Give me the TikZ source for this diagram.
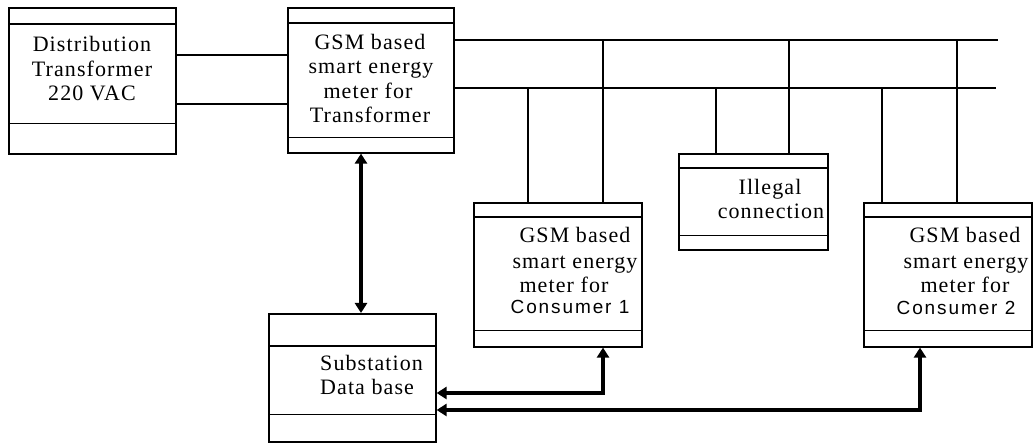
\documentclass[tikz,border=0pt]{standalone}
\usepackage{fontspec}
\setmainfont{Liberation Serif}
\newfontfamily\serf{Liberation Serif}[LetterSpace=5]
\newfontfamily\sansf{Liberation Sans}[LetterSpace=10]
\usetikzlibrary{arrows.meta}
\tikzset{
  box/.style={draw, line width=1.6pt, anchor=north west, inner sep=0pt},
  innerline/.style={line width=1.5pt},
  wire/.style={line width=1.6pt},
  bus/.style={line width=2.8pt},
  link/.style={line width=3.6pt, {Triangle[width=12pt,length=10pt]}-{Triangle[width=12pt,length=10pt]}},
  lbl/.style={inner sep=0pt, anchor=base, font=\serf\fontsize{22}{25}\selectfont},
  lblw/.style={inner sep=0pt, anchor=base west, font=\serf\fontsize{22}{25}\selectfont},
  slbl/.style={inner sep=0pt, anchor=base, font=\sansf\fontsize{19}{22}\selectfont},
}
\newcommand\inlines[3]{%
  \draw[innerline] ([yshift=-#2pt]#1.north west) -- ([yshift=-#2pt]#1.north east);
  \draw[innerline] ([yshift=#3pt]#1.south west) -- ([yshift=#3pt]#1.south east);}
\begin{document}
\begin{tikzpicture}[x=1pt,y=-1pt]
\useasboundingbox (0,0) rectangle (1034,443);
% boxes
\node[box, minimum width=167pt, minimum height=146pt] (dist) at (8,7) {};
\node[box, minimum width=166pt, minimum height=145pt] (gsmt) at (287,7) {};
\node[box, minimum width=168pt, minimum height=144pt] (c1) at (473,202) {};
\node[box, minimum width=167pt, minimum height=128pt] (sub) at (268,313) {};
\node[box, minimum width=149pt, minimum height=96pt] (ill) at (678,153) {};
\node[box, minimum width=168pt, minimum height=144pt] (c2) at (863,202) {};
\inlines{dist}{17}{31}
\inlines{gsmt}{16}{16}
\inlines{c1}{15}{17}
\inlines{sub}{33}{28}
\inlines{ill}{15}{15}
\inlines{c2}{15}{17}
% texts
\node[lbl] (dist1) at (92,52) {Distribution};
\node[lbl] (dist2) at (92,77) {Transformer};
\node[lbl] (dist3) at (92,101) {220 VAC};
\node[lbl] (gsmt1) at (370,50) {GSM based};
\node[lbl] (gsmt2) at (371,74) {smart energy};
\node[lbl] (gsmt3) at (368,99) {meter for};
\node[lbl] (gsmt4) at (370,123) {Transformer};
\node[lbl] (c1a) at (575,243) {GSM based};
\node[lbl] (c1b) at (575,269) {smart energy};
\node[lbl] (c1c) at (564,293) {meter for};
\node[slbl] (c1d) at (570,314) {Consumer 1};
\node[lbl] (c2a) at (965,243) {GSM based};
\node[lbl] (c2b) at (966,269) {smart energy};
\node[lbl] (c2c) at (965,293) {meter for};
\node[slbl] (c2d) at (956,315) {Consumer 2};
\node[lbl] (ill1) at (770,195) {Illegal};
\node[lbl] (ill2) at (771,219) {connection};
\node[lblw] (sub1) at (320,371) {Substation};
\node[lblw] (sub2) at (320,395) {Data base};
% coordinates
\coordinate (y55) at (0,55);
\coordinate (y104) at (0,104);
\coordinate (bt) at (0,40);
\coordinate (bl) at (0,88);
\coordinate (btend) at (998,40);
\coordinate (blend) at (996,88);
\coordinate (t1) at (603,40);
\coordinate (t2) at (789,40);
\coordinate (t3) at (957,40);
\coordinate (l1) at (528,88);
\coordinate (l2) at (716,88);
\coordinate (l3) at (882,88);
\coordinate (a1) at (361,0);
\coordinate (k1) at (603,393);
\coordinate (k2) at (920,410);
% transformer to meter
\draw[wire] (dist.east |- y55) -- (gsmt.west |- y55);
\draw[wire] (dist.east |- y104) -- (gsmt.west |- y104);
% bus bars
\draw[bus] (gsmt.east |- bt) -- (btend);
\draw[bus] (gsmt.east |- bl) -- (blend);
% drops
\draw[wire] (t1) -- (t1 |- c1.north);
\draw[wire] (l1) -- (l1 |- c1.north);
\draw[wire] (l2) -- (l2 |- ill.north);
\draw[wire] (t2) -- (t2 |- ill.north);
\draw[wire] (l3) -- (l3 |- c2.north);
\draw[wire] (t3) -- (t3 |- c2.north);
% communication links
\draw[link] (gsmt.south -| a1) -- (sub.north -| a1);
\draw[link] (sub.east |- k1) -- (k1) -- (k1 |- c1.south);
\draw[link] (sub.east |- k2) -- (k2) -- (k2 |- c2.south);
\end{tikzpicture}
\end{document}
